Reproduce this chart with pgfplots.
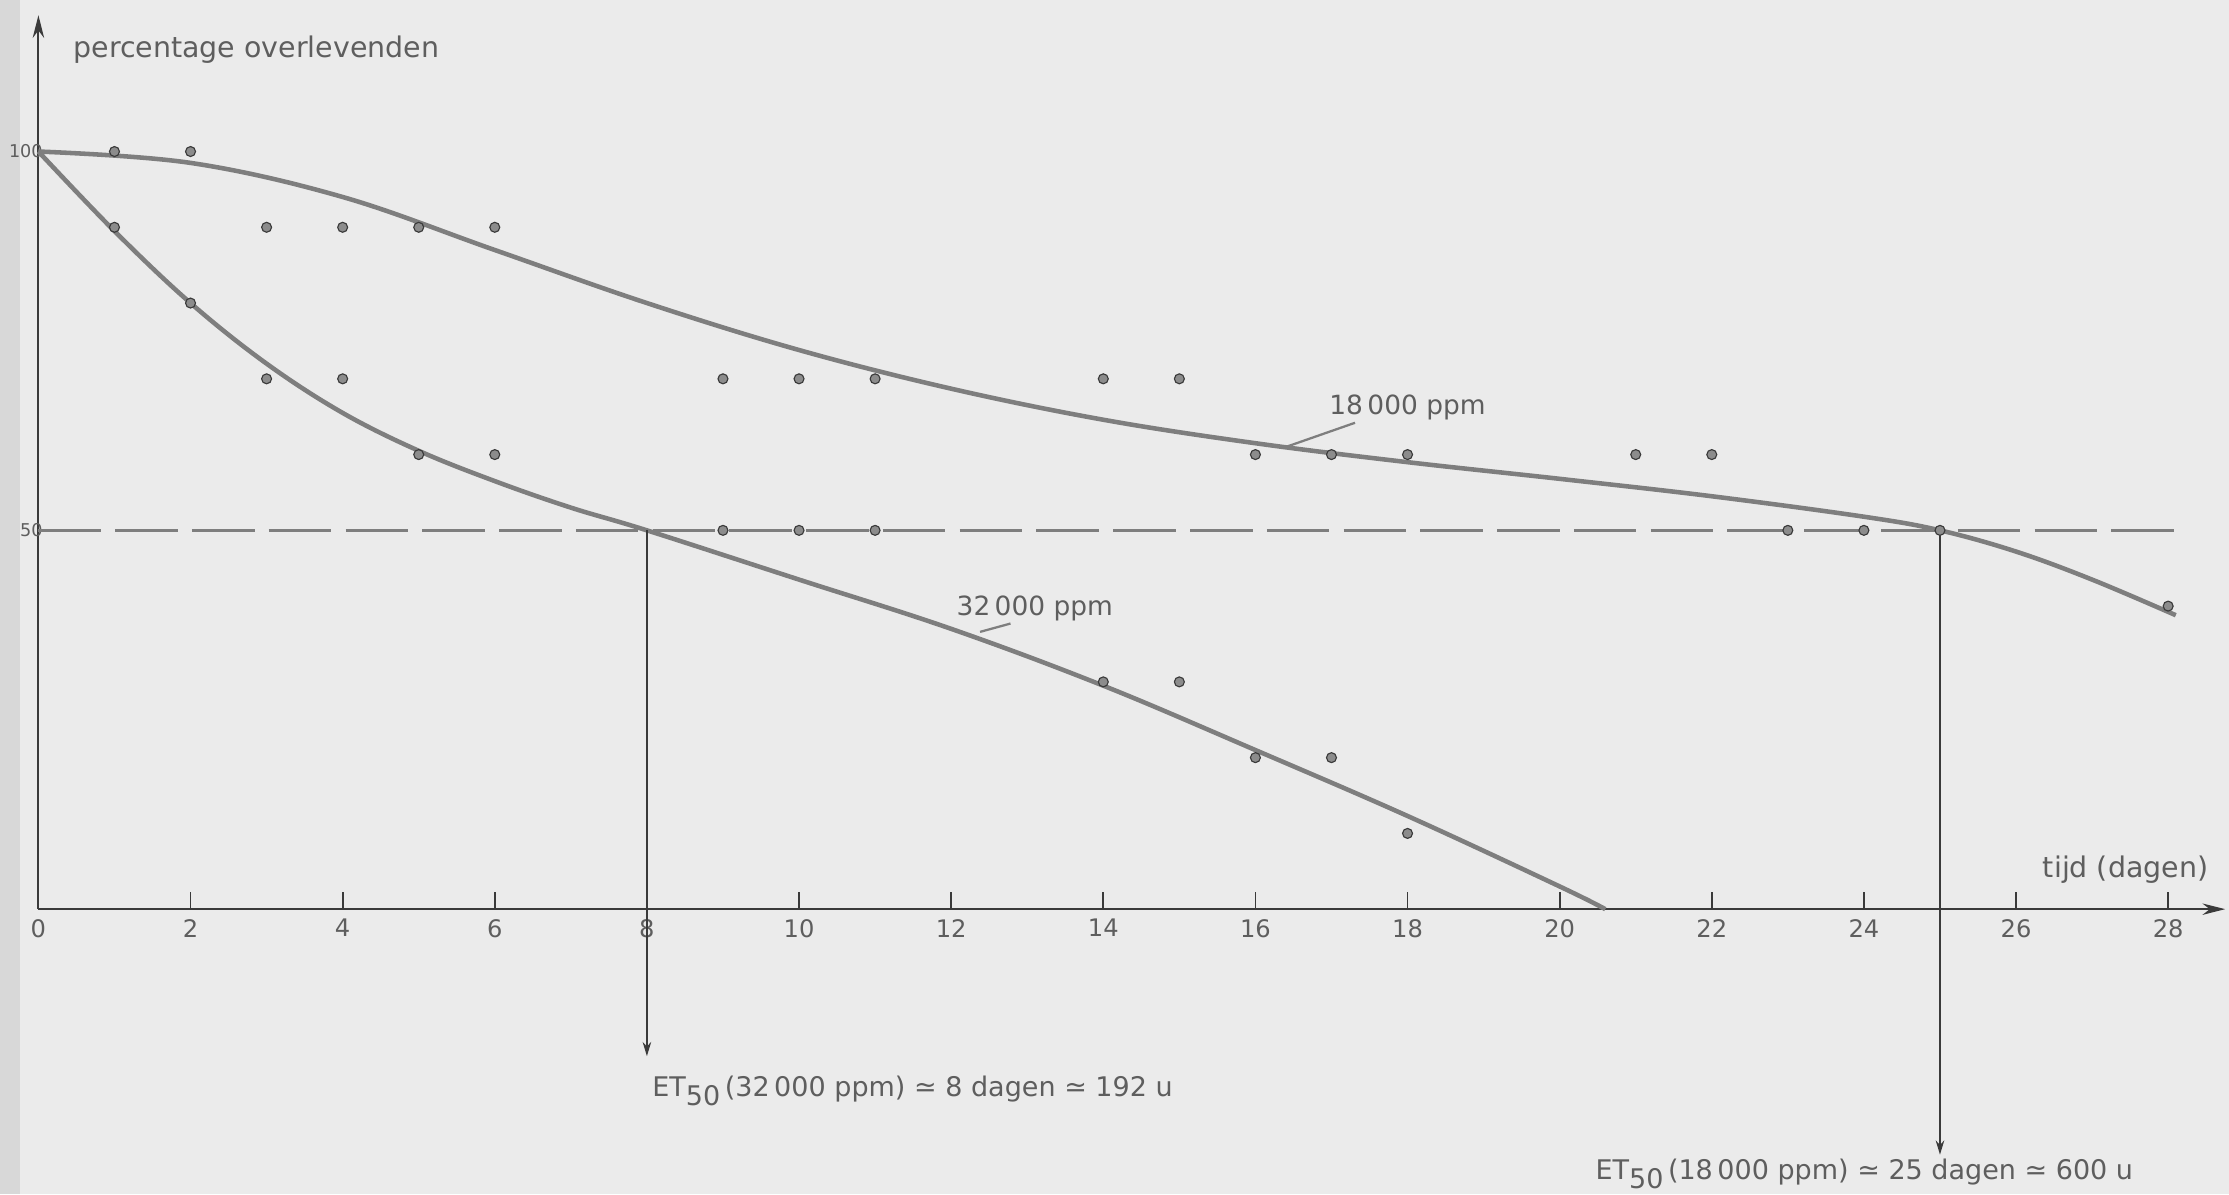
\documentclass[border=0pt]{standalone}
\usepackage{fontspec}
\setmainfont{DejaVu Sans}
\usepackage{pgfplots}
\pgfplotsset{compat=1.18}
\usetikzlibrary{arrows.meta,backgrounds}

\definecolor{paper}{HTML}{EBEBEB}
\definecolor{ink}{HTML}{5E5E5E}
\definecolor{axisink}{HTML}{3A3A3A}
\definecolor{curve}{HTML}{7E7E7E}
\definecolor{dot}{HTML}{8C8C8C}

\begin{document}
\begin{tikzpicture}[font=\fontsize{8.5}{10}\selectfont, text=ink]
\begin{axis}[
    x=26.75pt, y=2.6645pt,
    xmin=0, xmax=28.75,
    ymin=0, ymax=118,
    axis lines=left,
    axis line style={draw=axisink, line width=0.7pt, -{Stealth[length=8pt,width=4pt]}},
    clip=false,
    xtick={0,2,...,28},
    ytick={50,100},
    tick align=inside,
    major tick length=6pt,
    xtick style={draw=axisink, line width=0.6pt},
    ytick style={draw=none},
    /pgf/number format/assume math mode=true,
    ticklabel style={text=ink, font=\fontsize{8.5}{10}\selectfont},
    yticklabel style={font=\fontsize{6.2}{7}\selectfont, inner sep=0.5pt, xshift=2.2pt},
]

% 18 000 ppm: gemeten punten
\addplot[only marks, mark=*, mark size=1.75pt,
    mark options={fill=dot, draw=axisink, line width=0.4pt}]
    coordinates {(1,100) (2,100) (3,90) (4,90) (5,90) (6,90)
                 (9,70) (10,70) (11,70) (14,70) (15,70)
                 (16,60) (17,60) (18,60) (21,60) (22,60)
                 (23,50) (24,50) (25,50) (28,40)};
% 32 000 ppm: gemeten punten
\addplot[only marks, mark=*, mark size=1.75pt,
    mark options={fill=dot, draw=axisink, line width=0.4pt}]
    coordinates {(1,90) (2,80) (3,70) (4,70) (5,60) (6,60)
                 (9,50) (10,50) (11,50) (14,30) (15,30)
                 (16,20) (17,20) (18,10)};

% getekende curven (afgelezen)
\addplot[curve, line width=1.6pt, smooth, tension=0.6]
    coordinates {(0,100) (2,98.5) (4,94) (6,87) (8,80) (10,73.8)
                 (12,68.7) (14,64.6) (16,61.5) (18,59) (20,56.8)
                 (22,54.5) (24,51.8) (25,50) (26,47.2) (27,43.5) (28.1,38.8)};
\addplot[curve, line width=1.6pt, smooth, tension=0.6]
    coordinates {(0,100) (1,89.5) (2,80) (3,72) (4,65.5) (5,60.5)
                 (6,56.5) (7,53) (8,50) (10,43.5) (12,37) (14,29.5)
                 (16,21) (18,12.3) (20,3) (20.6,0)};

% 50 % lijn en ET50 verwijzingen
\addplot[curve, line width=1pt, dash pattern=on 22pt off 5pt]
    coordinates {(0,50) (28.2,50)};
\addplot[axisink, line width=0.6pt, -{Stealth[length=5pt,width=3pt]}]
    coordinates {(8,50) (8,-19.4)};
\addplot[axisink, line width=0.6pt, -{Stealth[length=5pt,width=3pt]}]
    coordinates {(25,50) (25,-32.4)};

% verwijslijntjes
\addplot[curve, line width=0.8pt] coordinates {(16.37,60.9) (17.31,64.2)};
\addplot[curve, line width=0.8pt] coordinates {(12.38,36.6) (12.78,37.7)};

\node[anchor=west, font=\fontsize{10}{12}\selectfont] at (axis cs:0.33,113.5) {percentage overlevenden};
\node[font=\fontsize{10}{12}\selectfont] at (axis cs:27.44,5.2) {tijd (dagen)};
\node[font=\fontsize{9.3}{11}\selectfont] at (axis cs:18.0,66.2) {18\,000 ppm};
\node[font=\fontsize{9.3}{11}\selectfont] at (axis cs:13.1,39.7) {32\,000 ppm};
\node[anchor=west, font=\fontsize{9.5}{11}\selectfont] at (axis cs:7.94,-24)
    {ET\raisebox{-0.6ex}{50}\,(32\,000 ppm) ≃ 8 dagen ≃ 192 u};
\node[anchor=west, font=\fontsize{9.5}{11}\selectfont] at (axis cs:20.34,-35)
    {ET\raisebox{-0.6ex}{50}\,(18\,000 ppm) ≃ 25 dagen ≃ 600 u};

\coordinate (bl) at (axis cs:-0.505,-37.6);
\coordinate (tr) at (axis cs:28.80,120.0);
\coordinate (strip) at (axis cs:-0.243,120.0);
\end{axis}

\begin{scope}[on background layer]
  \fill[paper] (bl) rectangle (tr);
  \fill[paper!92!black] (bl) rectangle (strip);
\end{scope}
\pgfresetboundingbox
\useasboundingbox (bl) rectangle (tr);
\end{tikzpicture}
\end{document}
